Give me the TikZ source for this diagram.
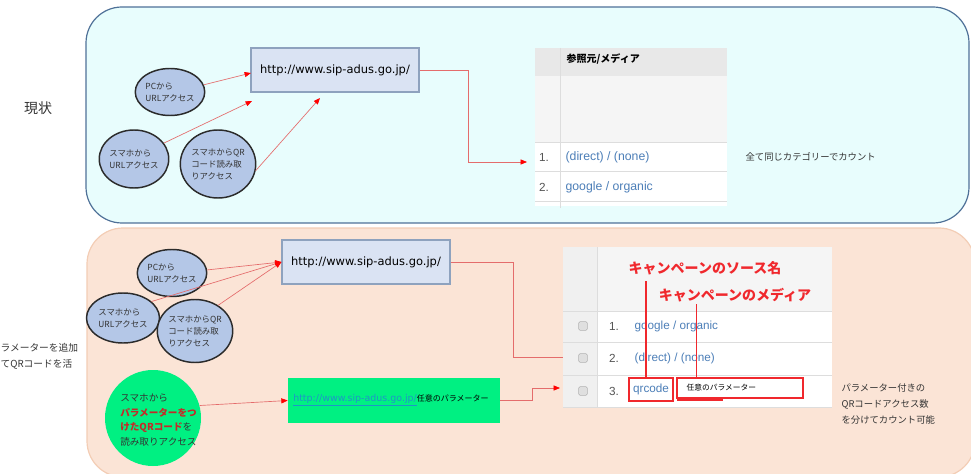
\documentclass[tikz,border=0pt]{standalone}
\usepackage{fontspec}
\setmainfont{Noto Sans CJK JP}
\newfontfamily\urlfont{DejaVu Sans}
\newfontfamily\tabfont{Liberation Sans}
\usetikzlibrary{shapes.geometric,arrows.meta,calc}

\definecolor{panAfill}{HTML}{E8FDFD}
\definecolor{panAline}{HTML}{4F7198}
\definecolor{panBfill}{HTML}{FBE4D6}
\definecolor{panBline}{HTML}{F3CDB5}
\definecolor{circfill}{HTML}{B4C7E7}
\definecolor{circline}{HTML}{2B2B2B}
\definecolor{urlfill}{HTML}{DAE3F3}
\definecolor{urlline}{HTML}{8EA2BE}
\definecolor{lnred}{HTML}{E46C6C}
\definecolor{tipred}{HTML}{FF0000}
\definecolor{annred}{HTML}{F0282D}
\definecolor{darkred}{HTML}{C62828}
\definecolor{linkblue}{HTML}{4D7FB8}
\definecolor{linkteal}{HTML}{1F95C8}
\definecolor{qrgreen}{HTML}{00F082}
\definecolor{txtgray}{HTML}{333333}
\definecolor{numgray}{HTML}{555555}
\definecolor{hdrgray}{HTML}{E8E8E8}
\definecolor{emptygray}{HTML}{F5F5F5}
\definecolor{rowline}{HTML}{DDDDDD}

\tikzset{
  panel/.style={rounded corners=27pt, line width=0.9pt},
  src/.style 2 args={ellipse, draw=circline, fill=circfill, line width=1.1pt,
    minimum width=#1, minimum height=#2, inner sep=0pt, align=left,
    text=txtgray, font=\fontsize{6.3}{9}\selectfont},
  urlbox/.style={draw=urlline, fill=urlfill, line width=0.8pt, minimum width=126pt,
    minimum height=33pt, text=black, font=\urlfont\fontsize{8.6}{10}\selectfont},
  redarrow/.style={draw=lnred, line width=0.5pt, -{Triangle[length=4.8pt,width=3.8pt,color=tipred]}},
  sidelbl/.style={inner sep=1pt, text=txtgray, font=\fontsize{7.3}{12}\selectfont},
  note/.style={inner sep=1pt, text=txtgray, font=\fontsize{7}{12}\selectfont},
  numtxt/.style={inner sep=1pt, text=numgray, font=\tabfont\fontsize{8.8}{10}\selectfont},
  cell/.style={inner sep=1pt, text=linkblue, font=\tabfont\fontsize{9.2}{10}\selectfont},
  gridline/.style={draw=rowline, line width=0.6pt},
  chk/.style={draw=gray!60, fill=gray!25, rounded corners=1pt, minimum size=6.5pt, inner sep=0pt},
  annlbl/.style={inner sep=1pt, text=annred, font=\bfseries\fontsize{10.5}{12}\selectfont},
  annline/.style={draw=annred, line width=0.8pt},
}

\begin{document}
\begin{tikzpicture}[x=0.75pt,y=-0.75pt]
\useasboundingbox (0,0) rectangle (971,474);
\clip (0,0) rectangle (971,474);

% 背景パネル
\draw[panel, draw=panAline, fill=panAfill] (86,7) rectangle (969,223);
\draw[panel, draw=panBline, fill=panBfill] (87,228) rectangle (975,477);

% 左の見出し
\node[sidelbl, font=\fontsize{10.5}{12}\selectfont] (now) at (38,108) {現状};
\node[sidelbl, anchor=west, align=left] (plan) at (-1,356) {ラメーターを追加\\てQRコードを活};

% 現状: アクセス元
\node[urlbox] (url1) at (335,70) {http://www.sip-adus.go.jp/};
\node[src={49.5pt}{35.25pt}] (pc1) at (170,92) {PCから\\URLアクセス};
\node[src={51pt}{43.5pt}] (sp1) at (134,159) {スマホから\\URLアクセス};
\node[src={54pt}{51pt}] (qr1) at (218,164) {スマホからQR\\コード読み取\\りアクセス};

\coordinate (in1) at (251,73);
\coordinate (in2) at (252,101);
\coordinate (in3) at (320,98);
\draw[redarrow] (pc1.12) -- (in1);
\draw[redarrow] (sp1.28) -- (in2);
\draw[redarrow] (qr1.-10) -- (in3);

% 現状: レポート
\fill[hdrgray] (535,48) rectangle (727,76);
\fill[emptygray] (535,76) rectangle (727,142);
\fill[white] (535,142) rectangle (727,206);
\draw[gridline] (535,142) -- (727,142) (535,171) -- (727,171) (535,201) -- (727,201);
\draw[gridline] (560,48) -- (560,208);
\node[inner sep=1pt, anchor=west, font=\bfseries\fontsize{7.5}{9}\selectfont] (hdr1) at (565,59) {参照元/メディア};
\node[numtxt] (n11) at (544,157) {1.};
\node[cell, anchor=west] (c11) at (564,157) {(direct) / (none)};
\node[numtxt] (n12) at (544,187) {2.};
\node[cell, anchor=west] (c12) at (564,187) {google / organic};
\node[note, anchor=west] (note1) at (744,157) {全て同じカテゴリーでカウント};

\coordinate (out1) at (527,162);
\draw[redarrow] (url1.east) -- ++(49,0) |- (out1);

% パラメーター付き: アクセス元
\node[urlbox] (url2) at (366,262) {http://www.sip-adus.go.jp/};
\node[src={48.75pt}{35.25pt}] (pc2) at (172,273) {PCから\\URLアクセス};
\node[src={54.75pt}{37.5pt}] (sp2) at (123,318) {スマホから\\URLアクセス};
\node[src={49.5pt}{47.25pt}] (qr2) at (195,331) {スマホからQR\\コード読み取\\りアクセス};
\draw[redarrow] (pc2.5) -- (url2.west);
\draw[redarrow] (sp2.30) -- (url2.west);
\draw[redarrow] (qr2.48) -- (url2.west);

\node[circle, fill=qrgreen, minimum size=72pt, inner sep=0pt] (gc) at (153,418) {};
\node[inner sep=0pt, anchor=west, align=left, text=txtgray, font=\fontsize{7.2}{11}\selectfont] (gctxt) at (120,420)
  {スマホから\\{\color{darkred}\bfseries パラメーターをつ}\\{\color{darkred}\bfseries けたQRコード}を\\読み取りアクセス};
\node[rectangle, fill=qrgreen, minimum width=159pt, minimum height=33.75pt] (gbox) at (394,400.5) {};
\node[inner sep=0pt, anchor=west] (gurl) at (293,400)
  {{\urlfont\fontsize{7.1}{9}\selectfont\color{linkteal}\underline{http://www.sip-adus.go.jp/}}{\fontsize{6}{9}\selectfont 任意のパラメーター}};
\draw[redarrow] (gc.15) -- (gbox.west);

\coordinate (out2) at (576,357);
\coordinate (out3) at (560,388);
\draw[redarrow] (url2.east) -- ++(63,0) |- (out2);
\draw[redarrow] (gbox.east) -- ++(32,0) |- (out3);

% パラメーター付き: レポート
\fill[emptygray] (563,247) rectangle (832,311);
\fill[gray!12] (563,247) rectangle (597,408);
\fill[white] (597,311) rectangle (832,408);
\draw[gridline] (563,311) -- (832,311) (563,342) -- (832,342) (563,375) -- (832,375) (563,407) -- (832,407);
\draw[gridline] (597,247) -- (597,408);
\foreach \y/\n in {326/1, 358/2, 391/3} {
  \node[chk] (box\n) at (583,\y) {};
  \node[numtxt] (num\n) at (614,\y) {\n.};
}
\node[cell, anchor=west, font=\tabfont\fontsize{8.8}{10}\selectfont] (r1) at (633,326) {google / organic};
\node[cell, anchor=west, font=\tabfont\fontsize{8.8}{10}\selectfont] (r2) at (633,358) {(direct) / (none)};
\node[cell, draw=annred, line width=1.1pt, minimum width=33pt, minimum height=17.25pt, inner sep=0pt,
  font=\tabfont\fontsize{8.8}{10}\selectfont] (qrsel) at (651,389.5) {qrcode};
\node[draw=annred, fill=white, line width=2.2pt, minimum width=94.5pt, minimum height=15pt] (parsel) at (740,388) {};
\draw[line width=2.2pt, annred] (677,400) -- (723,400);
\node[inner sep=1pt, anchor=west, font=\fontsize{5.8}{8}\selectfont] (partxt) at (685,388) {任意のパラメーター};

\node[annlbl] (srclbl) at (705,268) {キャンペーンのソース名};
\node[annlbl] (medlbl) at (735,295) {キャンペーンのメディア};
\draw[annline] ($(qrsel.north)+(-5,0)$) -- ++(0,-96);
\draw[annline] ($(parsel.north west)+(21,0)$) -- ++(0,-73);

\node[note, anchor=west, align=left] (note2) at (840,404) {パラメーター付きの\\QRコードアクセス数\\を分けてカウント可能};

\end{tikzpicture}
\end{document}
